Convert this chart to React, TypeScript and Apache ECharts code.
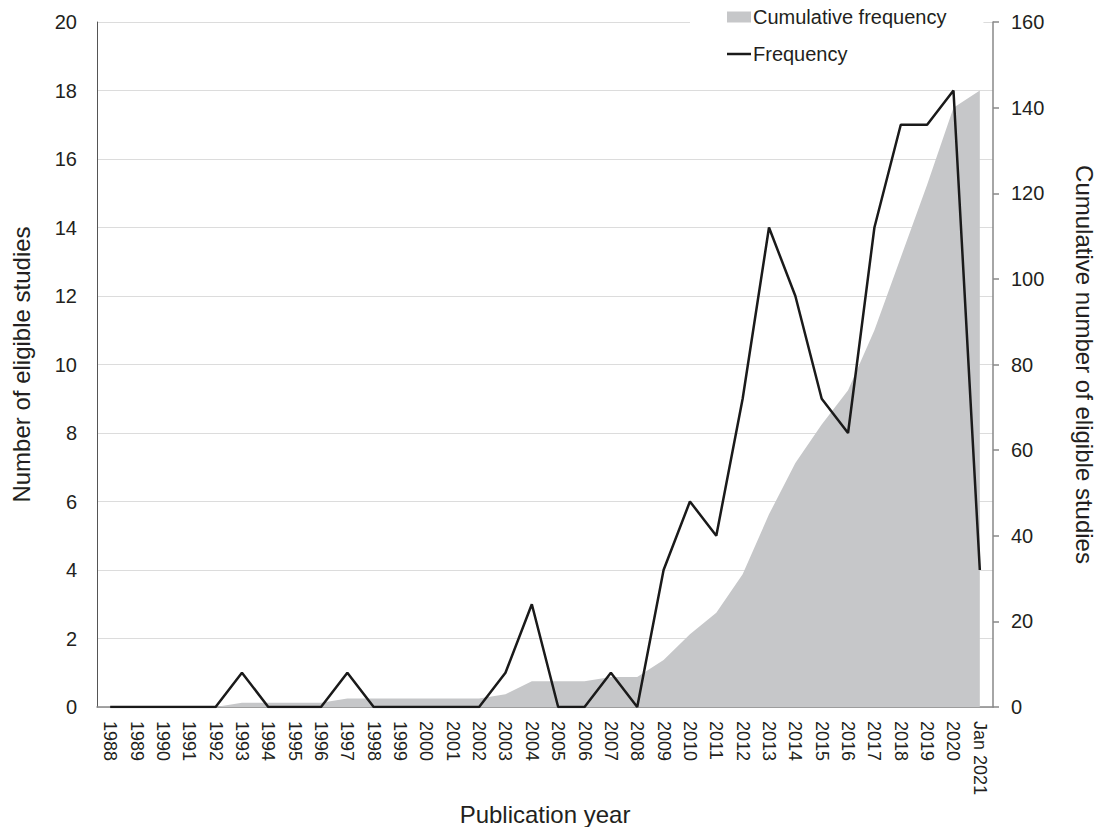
import React, { useEffect, useRef } from "react";
import * as echarts from "echarts";

const categories = [
  "1988", "1989", "1990", "1991", "1992", "1993", "1994", "1995", "1996", "1997",
  "1998", "1999", "2000", "2001", "2002", "2003", "2004", "2005", "2006", "2007",
  "2008", "2009", "2010", "2011", "2012", "2013", "2014", "2015", "2016", "2017",
  "2018", "2019", "2020", "Jan 2021",
];
const frequency = [
  0, 0, 0, 0, 0, 1, 0, 0, 0, 1,
  0, 0, 0, 0, 0, 1, 3, 0, 0, 1,
  0, 4, 6, 5, 9, 14, 12, 9, 8, 14,
  17, 17, 18, 4,
];
const cumulative = [
  0, 0, 0, 0, 0, 1, 1, 1, 1, 2,
  2, 2, 2, 2, 2, 3, 6, 6, 6, 7,
  7, 11, 17, 22, 31, 45, 57, 66, 74, 88,
  105, 122, 140, 144,
];

const FONT = "'Liberation Sans', Arial, Helvetica, sans-serif";
const TXT = "#231f20";

export default function App() {
  const ref = useRef<HTMLDivElement>(null);
  useEffect(() => {
    if (!ref.current) return;
    document.body.style.margin = "0";
    document.body.style.overflow = "hidden";
    const chart = echarts.init(ref.current, null, { renderer: "svg" });
    chart.setOption({
      animation: false,
      backgroundColor: "#ffffff",
      textStyle: { fontFamily: FONT },
      grid: {
        left: 97,
        right: 103,
        top: 22,
        bottom: 120,
        containLabel: false,
        outerBoundsMode: "none",
      },
      legend: {
        orient: "vertical",
        left: 690,
        top: 1,
        padding: [6, 37, 8, 37],
        itemGap: 17,
        itemWidth: 24,
        itemHeight: 11,
        backgroundColor: "#ffffff",
        textStyle: { fontFamily: FONT, fontSize: 20, color: TXT, padding: [0, 0, 0, -3] },
        data: [
          { name: "Cumulative frequency", icon: "rect", itemStyle: { color: "#c6c7c9" } },
          { name: "Frequency", icon: "path://M0 0 H24 V2.5 H0 Z", itemStyle: { color: "#1a1a1a" } },
        ],
      },
      xAxis: {
        type: "category",
        data: categories,
        boundaryGap: true,
        name: "Publication year",
        nameLocation: "middle",
        nameGap: 94,
        nameTextStyle: { fontFamily: FONT, fontSize: 24, color: TXT },
        axisLine: { show: true, lineStyle: { color: "#888888", width: 1.5 } },
        axisTick: { show: false },
        axisLabel: { interval: 0, rotate: -90, margin: 14, fontSize: 18, color: TXT, fontFamily: FONT },
      },
      yAxis: [
        {
          type: "value",
          min: 0,
          max: 20,
          interval: 2,
          name: "Number of eligible studies",
          nameLocation: "middle",
          nameRotate: 90,
          nameGap: 64,
          nameTextStyle: { fontFamily: FONT, fontSize: 24, color: TXT },
          axisLine: { show: true, lineStyle: { color: "#555555", width: 1 } },
          axisTick: { show: false },
          axisLabel: { fontSize: 20, color: TXT, margin: 20, fontFamily: FONT },
          splitLine: { show: true, lineStyle: { color: "#dcdcdc", width: 1 } },
        },
        {
          type: "value",
          min: 0,
          max: 160,
          interval: 20,
          position: "right",
          name: "Cumulative number of eligible studies",
          nameLocation: "middle",
          nameRotate: -90,
          nameGap: 79,
          nameTextStyle: { fontFamily: FONT, fontSize: 24, color: TXT },
          axisLine: { show: true, lineStyle: { color: "#888888", width: 1.5 } },
          axisTick: { show: true, length: 6, inside: false, lineStyle: { color: "#888888", width: 1.5 } },
          axisLabel: { fontSize: 20, color: TXT, margin: 18, fontFamily: FONT },
          splitLine: { show: false },
        },
      ],
      series: [
        {
          name: "Cumulative frequency",
          type: "line",
          yAxisIndex: 1,
          data: cumulative,
          showSymbol: false,
          symbol: "none",
          lineStyle: { width: 0, color: "#c6c7c9" },
          itemStyle: { color: "#c6c7c9" },
          areaStyle: { color: "#c6c7c9", opacity: 1 },
          z: 2,
        },
        {
          name: "Frequency",
          type: "line",
          yAxisIndex: 0,
          data: frequency,
          showSymbol: false,
          symbol: "none",
          lineStyle: { width: 2.5, color: "#1a1a1a" },
          itemStyle: { color: "#1a1a1a" },
          z: 3,
        },
      ],
    });
    return () => chart.dispose();
  }, []);
  return (
    <div style={{ width: 1096, height: 827, position: "fixed", left: 0, top: 0, overflow: "hidden" }}>
      <div ref={ref} style={{ width: 1096, height: 827 }} />
    </div>
  );
}
